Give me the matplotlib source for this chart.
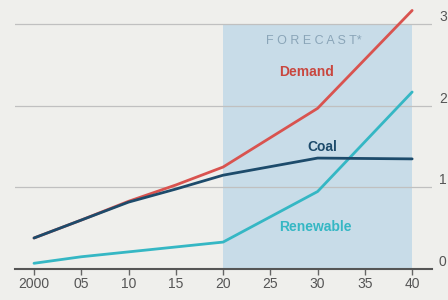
import matplotlib
matplotlib.use("Agg")
import matplotlib.pyplot as plt

plt.rcParams['font.family'] = ['Liberation Sans Narrow', 'Liberation Sans', 'DejaVu Sans']

years = [2000, 2005, 2010, 2015, 2020, 2030, 2040]
demand = [0.38, 0.60, 0.83, 1.03, 1.25, 1.97, 3.17]
coal = [0.38, 0.60, 0.82, 0.98, 1.15, 1.36, 1.35]
renewable = [0.07, 0.15, 0.21, 0.27, 0.33, 0.95, 2.17]

tick_years = [2000, 2005, 2010, 2015, 2020, 2025, 2030, 2035, 2040]
tick_labels = ["2000", "05", "10", "15", "20", "25", "30", "35", "40"]
y_ticks = [0, 1, 2, 3]

forecast_start = 2020
forecast_end = 2040

bg = '#efefec'
fig = plt.figure(figsize=(4.48, 3.00), dpi=100, facecolor=bg)
ax = fig.add_axes([15 / 448, 31 / 300, 417 / 448, 261 / 300])
ax.set_facecolor(bg)

ax.set_xlim(1997.99, 2042.1)
ax.set_ylim(0, 3.2)

# forecast shading
ax.fill_between([forecast_start, forecast_end], 0, 3, color='#c8dce8', zorder=0.5, lw=0)

ax.plot(years, demand, color='#d9534f', lw=2, zorder=3, clip_on=False, solid_capstyle='round')
ax.plot(years, renewable, color='#35b7c4', lw=2, zorder=4, clip_on=False, solid_capstyle='round')
ax.plot(years, coal, color='#1d4b6b', lw=2, zorder=5, clip_on=False, solid_capstyle='round')

ax.text(2029.6, 2.8, 'F O R E C A S T*', color='#8aa5b8', fontsize=9, ha='center', va='center')
ax.text(2028.8, 2.42, 'Demand', color='#c9473f', fontsize=10, fontweight='bold', ha='center', va='center')
ax.text(2030.5, 1.5, 'Coal', color='#1d4b6b', fontsize=10, fontweight='bold', ha='center', va='center')
ax.text(2029.8, 0.52, 'Renewable', color='#35b7c4', fontsize=10, fontweight='bold', ha='center', va='center')

ax.set_yticks(y_ticks)
ax.yaxis.tick_right()
ax.tick_params(axis='y', length=0, pad=5, labelsize=10, labelcolor='#555555')
for lab in ax.get_yticklabels():
    lab.set_verticalalignment('bottom')
ax.grid(axis='y', color='#c0c0c0', lw=0.9)
ax.set_axisbelow(True)

ax.set_xticks(tick_years)
ax.set_xticklabels(tick_labels)
ax.tick_params(axis='x', length=4, width=1, color='#666666', labelsize=10, labelcolor='#555555', pad=2)

for s in ['top', 'left', 'right']:
    ax.spines[s].set_visible(False)
ax.spines['bottom'].set_color('#555555')
ax.spines['bottom'].set_linewidth(1.5)

fig.savefig('out.png', dpi=100, facecolor=bg)
